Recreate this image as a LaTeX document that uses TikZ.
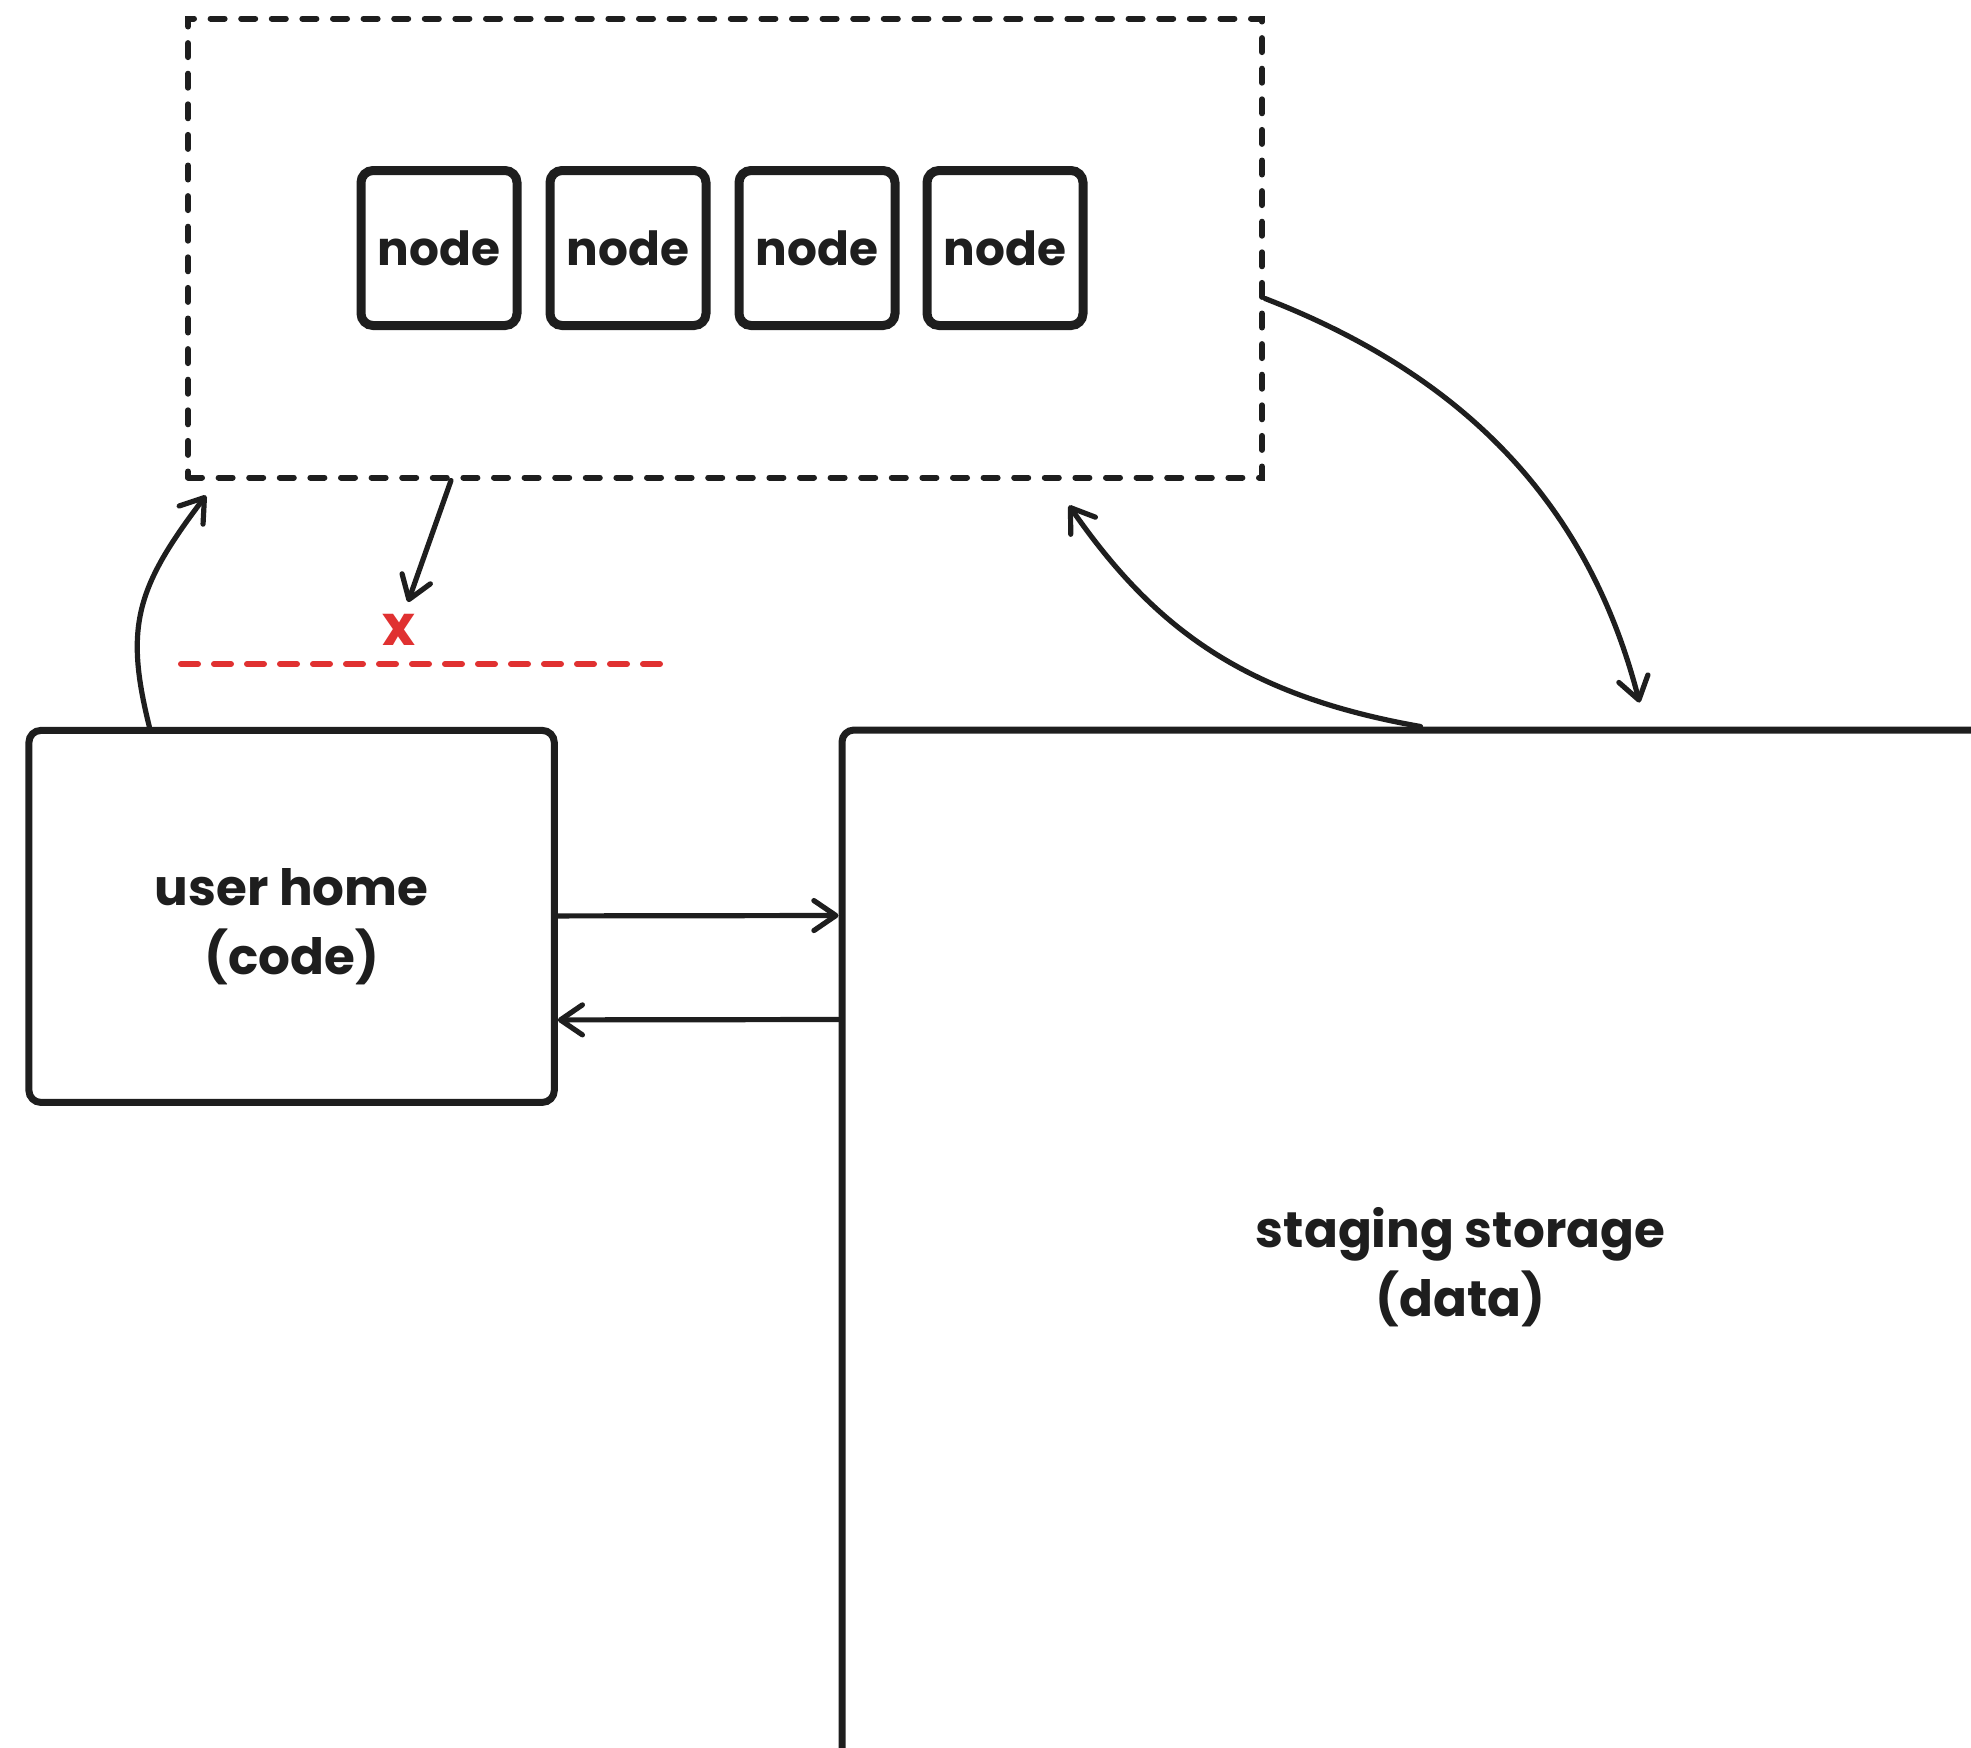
\documentclass[tikz,border=0pt]{standalone}
\usepackage{fontspec}
\setmainfont{Poppins}
\usetikzlibrary{arrows.meta,calc}
\definecolor{ink}{HTML}{1E1E1E}
\definecolor{redink}{HTML}{E03131}
\tikzstyle{clusterbox}=[draw=ink,line width=3pt,dash pattern=on 7pt off 8.3pt,line cap=round,minimum width=537pt,minimum height=229.5pt,inner sep=0pt]
\tikzstyle{computenode}=[draw=ink,line width=4.5pt,rounded corners=6pt,minimum width=78pt,minimum height=77.5pt,inner sep=0pt,text=ink,font=\bfseries\fontsize{23.5}{28}\selectfont]
\tikzstyle{storebox}=[draw=ink,line width=3.5pt,rounded corners=6pt,inner sep=0pt]
\tikzstyle{storetext}=[align=center,inner sep=0pt,text=ink,font=\bfseries\fontsize{25}{34.5}\selectfont]
\tikzstyle{flow}=[draw=ink,line width=2.6pt,line cap=round,-{Straight Barb[length=11pt,width=15pt,round]}]
\tikzstyle{blocked}=[draw=redink,line width=3pt,dash pattern=on 8.5pt off 8pt,line cap=round]

\begin{document}
\begin{tikzpicture}[x=0.5pt,y=-0.5pt]
    \clip (0,0) rectangle (1971,1747);
    \node[clusterbox] (cluster) at (725,248) {};
    \foreach \i/\x in {1/439,2/628,3/817,4/1005}
        \node[computenode] (n\i) at (\x,248) {node};
    \node[storebox,minimum width=262.7pt,minimum height=186pt] (home) at (291.6,916.4) {};
    \node[storebox,minimum width=618.5pt,minimum height=533pt] (staging) at (1460.5,1263) {};
    \node[storetext] (hometext) at ([yshift=-5pt]home.center) {user home\\(code)};
    \node[storetext] (stagingtext) at ([yshift=-2pt]staging.center) {staging storage\\(data)};
    \node[text=redink,inner sep=0pt,font=\bfseries\fontsize{28}{30}\selectfont] (xmark) at (398.5,630) {x};
    \coordinate (cutl) at (181,664);
    \coordinate (cutr) at (660,664);
    \coordinate (xtip) at (408,602);

    \draw[blocked] (cutl) -- (cutr);
    \draw[flow] ($(cluster.south west)+(266,0)$) -- (xtip);
    \draw[flow] ($(home.north west)+(124,0)$) .. controls +(-25,-100) and +(-70,92) .. ($(cluster.south west)+(21,15)$);
    \draw[flow] ($(staging.north west)+(582,0)$) .. controls +(-176,-31) and +(85.5,123) .. ($(cluster.south east)+(-196,25)$);
    \draw[flow] ($(cluster.north east)+(0,283)$) .. controls +(204.6,79.3) and +(-50,-194) .. ($(staging.north west)+(801,-24)$);
    \draw[flow] ($(home.north east)+(0,189)$) -- ($(staging.north west)+(0,189)$);
    \draw[flow] ($(staging.north west)+(0,293)$) -- ($(home.north east)+(0,293)$);
\end{tikzpicture}
\end{document}
